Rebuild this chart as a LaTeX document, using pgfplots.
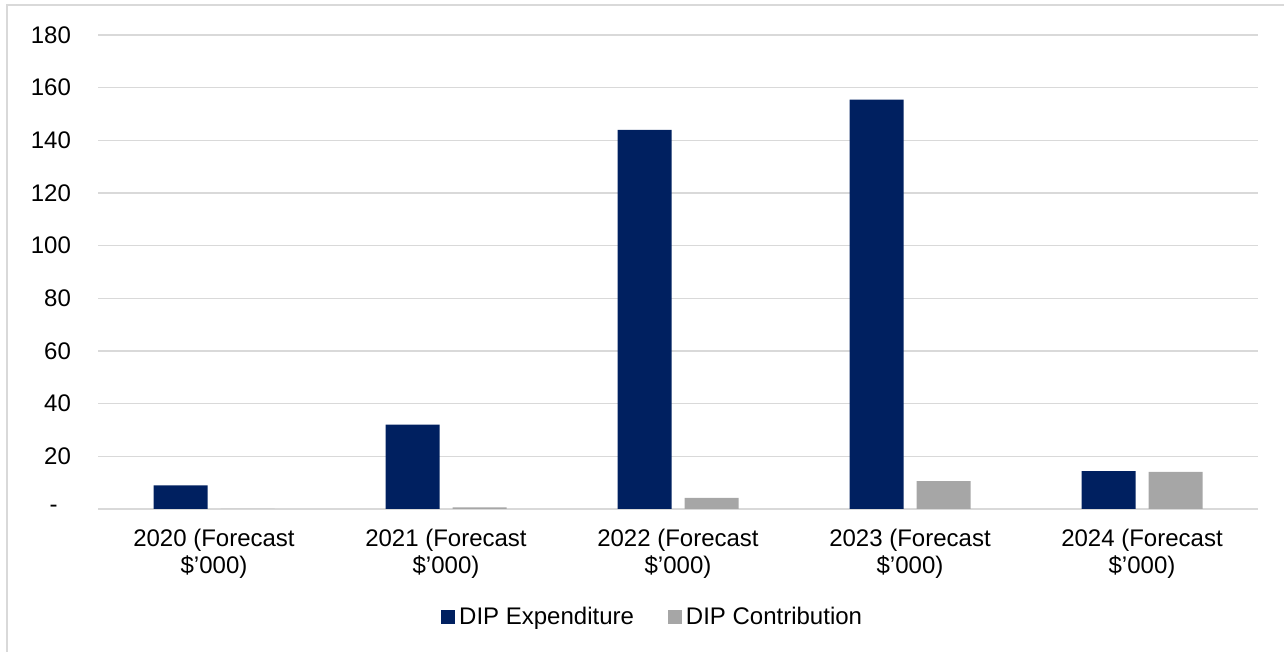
\documentclass[border=0pt]{standalone}
\usepackage{fontspec}
\setmainfont{Liberation Sans}
\usepackage{pgfplots}
\pgfplotsset{compat=1.18}

\definecolor{dipnavy}{HTML}{002060}
\definecolor{dipgray}{HTML}{A6A6A6}
\definecolor{gridgray}{HTML}{D9D9D9}

\begin{document}
\begin{tikzpicture}
  \useasboundingbox (0pt,0pt) rectangle (642pt,326pt);
  % outer chart frame (only left and top edges are visible)
  \draw[gridgray, line width=1pt] (3.5pt,-5pt) -- (3.5pt,323.5pt) -- (660pt,323.5pt);

  \begin{axis}[
      at={(49pt,71.5pt)}, anchor=south west,
      scale only axis, width=580pt, height=237pt,
      ybar, bar width=27pt,
      xmin=-0.5, xmax=4.5, ymin=0, ymax=180,
      xtick={0,1,2,3,4},
      xticklabels={{2020 (Forecast\\\$'000)},{2021 (Forecast\\\$'000)},
                   {2022 (Forecast\\\$'000)},{2023 (Forecast\\\$'000)},
                   {2024 (Forecast\\\$'000)}},
      ytick={0,20,40,60,80,100,120,140,160,180},
      yticklabels={{-\hphantom{0}},20,40,60,80,100,120,140,160,180},
      major tick length=0pt,
      axis x line*=bottom, axis y line*=left,
      x axis line style={gridgray, line width=0.9pt, -},
      y axis line style={draw=none},
      ymajorgrids, grid style={gridgray, line width=0.75pt},
      tick label style={font=\fontsize{12}{13.5}\selectfont},
      xticklabel style={align=center, yshift=-6.5pt},
      yticklabel style={anchor=east, xshift=-10pt},
      legend columns=2,
      legend style={at={(0.479,-0.228)}, anchor=center, draw=none, fill=none,
        font=\fontsize{12}{13.5}\selectfont,
        /tikz/every even column/.append style={column sep=15pt}},
    ]
    \addplot[fill=dipnavy, draw=none, bar shift=-16.75pt,
      legend image code/.code={\fill[dipnavy] (0pt,-3.5pt) rectangle (7pt,3.5pt);}]
      coordinates {(0,9) (1,32) (2,144) (3,155.5) (4,14.4)};
    \addplot[fill=dipgray, draw=none, bar shift=16.75pt,
      legend image code/.code={\fill[dipgray] (0pt,-3.5pt) rectangle (7pt,3.5pt);}]
      coordinates {(0,0) (1,0.6) (2,4.2) (3,10.6) (4,14.1)};
    \legend{DIP Expenditure, DIP Contribution}
  \end{axis}
\end{tikzpicture}
\end{document}
